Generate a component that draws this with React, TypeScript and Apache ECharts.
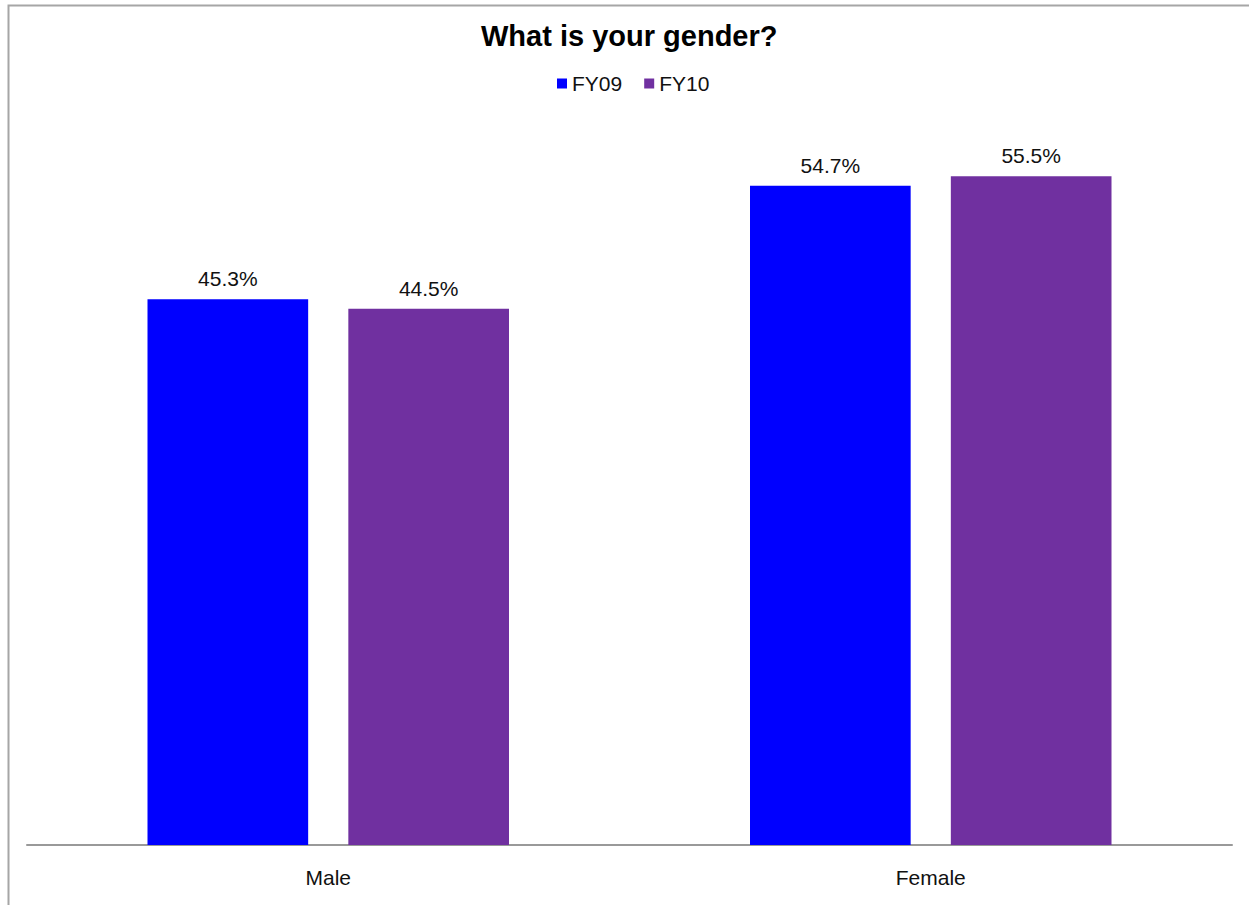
import React, { useEffect, useRef } from "react";
import * as echarts from "echarts";

const categories = ["Male", "Female"];
const seriesNames = ["FY09", "FY10"];
const fy09 = [45.3, 54.7];
const fy10 = [44.5, 55.5];
const colors = ["#0000FF", "#7030A0"];

export default function App() {
  const ref = useRef<HTMLDivElement>(null);
  useEffect(() => {
    if (!ref.current) return;
    const chart = echarts.init(ref.current, null, { renderer: "svg" });
    const font = "Liberation Sans, Arial, sans-serif";
    const label = {
      show: true,
      position: "top",
      distance: 10,
      fontSize: 21,
      fontFamily: font,
      color: "#111",
      formatter: (p: any) => p.value.toFixed(1) + "%",
    };
    chart.setOption({
      animation: false,
      backgroundColor: "#fff",
      title: {
        text: "What is your gender?",
        left: 481,
        top: 21,
        padding: 0,
        textStyle: { fontSize: 29, fontWeight: "bold", fontFamily: font, color: "#000" },
      },
      legend: {
        data: seriesNames,
        top: 73,
        left: 557,
        padding: 0,
        itemWidth: 10,
        itemHeight: 10,
        itemGap: 22,
        icon: "rect",
        textStyle: { fontSize: 21, fontFamily: font, color: "#111" },
      },
      graphic: [
        {
          type: "rect",
          shape: { x: 8.5, y: 5.5, width: 1400, height: 1000 },
          style: { fill: "none", stroke: "#a6a6a6", lineWidth: 2 },
          silent: true,
          z: -1,
        },
      ],
      grid: { left: 27, right: 17, top: 122, bottom: 60 },
      xAxis: {
        type: "category",
        data: categories,
        axisLine: { lineStyle: { color: "#999", width: 2 } },
        axisTick: { show: false },
        axisLabel: { fontSize: 21, fontFamily: font, color: "#111", margin: 22 },
      },
      yAxis: { type: "value", min: 0, max: 60, show: false, splitLine: { show: false } },
      series: [
        {
          name: seriesNames[0],
          type: "bar",
          data: fy09,
          itemStyle: { color: colors[0] },
          barGap: "25%",
          barCategoryGap: "40%",
          label,
        },
        {
          name: seriesNames[1],
          type: "bar",
          data: fy10,
          itemStyle: { color: colors[1] },
          barGap: "25%",
          barCategoryGap: "40%",
          label,
        },
      ],
    });
    return () => chart.dispose();
  }, []);
  return (
    <div
      ref={ref}
      style={{ position: "fixed", left: 0, top: 0, width: 1249, height: 905 }}
    />
  );
}
